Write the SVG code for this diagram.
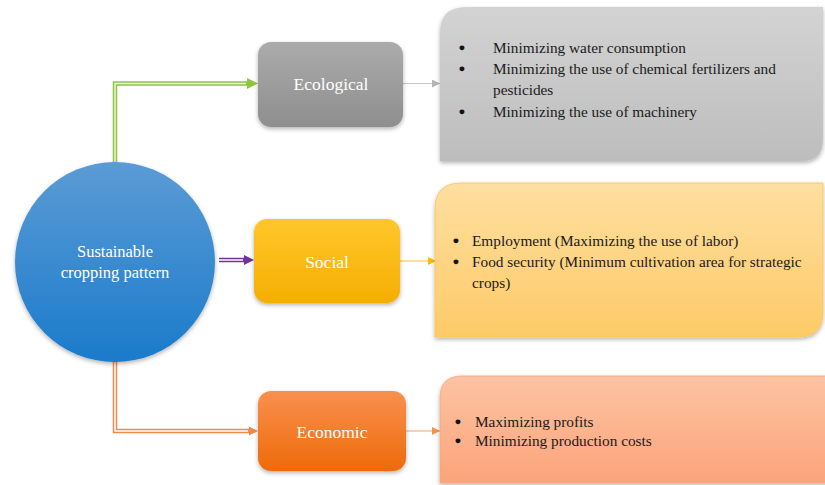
<svg xmlns="http://www.w3.org/2000/svg" width="825" height="485" viewBox="0 0 825 485">
<defs>
<linearGradient id="gCircle" x1="0" y1="0" x2="0" y2="1"><stop offset="0" stop-color="#5B9BD5"/><stop offset="1" stop-color="#1A7BCB"/></linearGradient>
<linearGradient id="gEco" x1="0" y1="0" x2="0" y2="1"><stop offset="0" stop-color="#ABABAB"/><stop offset="1" stop-color="#8E8E8E"/></linearGradient>
<linearGradient id="gSoc" x1="0" y1="0" x2="0" y2="1"><stop offset="0" stop-color="#FFC72C"/><stop offset="1" stop-color="#F6AE00"/></linearGradient>
<linearGradient id="gEcon" x1="0" y1="0" x2="0" y2="1"><stop offset="0" stop-color="#F99050"/><stop offset="1" stop-color="#EE6A08"/></linearGradient>
<linearGradient id="gGray" x1="0" y1="0" x2="0" y2="1"><stop offset="0" stop-color="#D3D3D3"/><stop offset="1" stop-color="#BDBDBD"/></linearGradient>
<linearGradient id="gYel" x1="0" y1="0" x2="0" y2="1"><stop offset="0" stop-color="#FEDFA0"/><stop offset="1" stop-color="#FDCA68"/></linearGradient>
<linearGradient id="gSal" x1="0" y1="0" x2="0" y2="1"><stop offset="0" stop-color="#FDC3A3"/><stop offset="1" stop-color="#FBA47A"/></linearGradient>
<filter id="sh" x="-10%" y="-10%" width="120%" height="130%"><feDropShadow dx="0" dy="2" stdDeviation="2" flood-color="#000" flood-opacity="0.3"/></filter>
<marker id="aGreen" viewBox="0 0 10 10" refX="0" refY="5" markerWidth="11" markerHeight="11" markerUnits="userSpaceOnUse" orient="auto"><path d="M0,0 L10,5 L0,10 z" fill="#8DC63F"/></marker>
<marker id="aPurple" viewBox="0 0 10 10" refX="0" refY="5" markerWidth="10" markerHeight="10" markerUnits="userSpaceOnUse" orient="auto"><path d="M0,0 L10,5 L0,10 z" fill="#7030A0"/></marker>
<marker id="aOrange" viewBox="0 0 10 10" refX="0" refY="5" markerWidth="9" markerHeight="9" markerUnits="userSpaceOnUse" orient="auto"><path d="M0,0 L10,5 L0,10 z" fill="#F08A4B"/></marker>
<marker id="aGray" viewBox="0 0 10 10" refX="10" refY="5" markerWidth="8" markerHeight="8" markerUnits="userSpaceOnUse" orient="auto"><path d="M0,0 L10,5 L0,10 z" fill="#B5B5B5"/></marker>
<marker id="aYel" viewBox="0 0 10 10" refX="10" refY="5" markerWidth="8" markerHeight="8" markerUnits="userSpaceOnUse" orient="auto"><path d="M0,0 L10,5 L0,10 z" fill="#FFB900"/></marker>
<marker id="aSal" viewBox="0 0 10 10" refX="10" refY="5" markerWidth="8" markerHeight="8" markerUnits="userSpaceOnUse" orient="auto"><path d="M0,0 L10,5 L0,10 z" fill="#F5924F"/></marker>
</defs>
<style>
.lbl{font-family:"Liberation Serif","Times New Roman",serif;fill:#fff;text-anchor:middle}
.bt{font-family:"Liberation Serif","Times New Roman",serif;fill:#1a1a1a;font-size:15.3px}
.bu{font-family:"Liberation Serif","Times New Roman",serif;fill:#111;stroke:#111;stroke-width:1.2px;font-size:15.3px;text-anchor:middle}
.thin{fill:none;stroke-width:1.2}
.dbl{fill:none;stroke-width:4.5}
.gap{fill:none;stroke:#fff;stroke-width:1.5}
</style>

<g id="connectors">
<path class="dbl" d="M115,165 V83.5 H247" stroke="#8DC63F" marker-end="url(#aGreen)"/>
<path class="gap" d="M115,165 V83.5 H246" stroke-opacity="0.85"/>
<path class="dbl" d="M219,260 H244" stroke="#7030A0" marker-end="url(#aPurple)"/>
<path class="gap" d="M219,260 H243"/>
<path class="dbl" d="M115,360 V431 H249" stroke="#F08A4B" marker-end="url(#aOrange)"/>
<path class="gap" d="M115,360 V431 H248"/>
<path class="thin" d="M403,83.5 H440" stroke="#C8C8C8" marker-end="url(#aGray)"/>
<path class="thin" d="M400,261 H436" stroke="#FFC12A" marker-end="url(#aYel)"/>
<path class="thin" d="M406,431 H440" stroke="#F5A06A" marker-end="url(#aSal)"/>
</g>

<g id="center">
<circle cx="115" cy="262" r="100" fill="url(#gCircle)" filter="url(#sh)"/>
<text class="lbl" x="115" y="257" font-size="16.5">Sustainable</text>
<text class="lbl" x="115" y="278" font-size="16.5">cropping pattern</text>
</g>

<g id="ecological">
<rect x="258" y="42" width="145" height="85" rx="13" fill="url(#gEco)" filter="url(#sh)"/>
<text class="lbl" x="331" y="90" font-size="17.5">Ecological</text>
</g>

<g id="social">
<rect x="254" y="219" width="146" height="84" rx="13" fill="url(#gSoc)" filter="url(#sh)"/>
<text class="lbl" x="327" y="268" font-size="17.5">Social</text>
</g>

<g id="economic">
<rect x="258" y="391" width="148" height="80" rx="13" fill="url(#gEcon)" filter="url(#sh)"/>
<text class="lbl" x="332" y="438" font-size="17.5">Economic</text>
</g>

<g id="ecological-details">
<path d="M466,7 H823 V140 Q823,161 802,161 H440 V33 Q440,7 466,7 Z" fill="url(#gGray)" filter="url(#sh)"/>
<text class="bu" x="462" y="53">•</text>
<text class="bt" x="493" y="53">Minimizing water consumption</text>
<text class="bu" x="462" y="74">•</text>
<text class="bt" x="493" y="74">Minimizing the use of chemical fertilizers and</text>
<text class="bt" x="493" y="95">pesticides</text>
<text class="bu" x="462" y="117">•</text>
<text class="bt" x="493" y="117">Minimizing the use of machinery</text>
</g>

<g id="social-details">
<path d="M461,183 H823 V312 Q823,337 798,337 H435 V209 Q435,183 461,183 Z" fill="url(#gYel)" stroke="#FCC44A" stroke-width="0.8" filter="url(#sh)"/>
<text class="bu" x="456" y="246">•</text>
<text class="bt" x="472" y="246">Employment (Maximizing the use of labor)</text>
<text class="bu" x="456" y="267">•</text>
<text class="bt" x="472" y="267">Food security (Minimum cultivation area for strategic</text>
<text class="bt" x="472" y="288">crops)</text>
</g>

<g id="economic-details">
<path d="M462,376 H830 V483 H440 V398 Q440,376 462,376 Z" fill="url(#gSal)" stroke="#F5A878" stroke-width="0.8" filter="url(#sh)"/>
<text class="bu" x="458" y="427">•</text>
<text class="bt" x="475" y="427">Maximizing profits</text>
<text class="bu" x="458" y="446">•</text>
<text class="bt" x="475" y="446">Minimizing production costs</text>
</g>
</svg>
